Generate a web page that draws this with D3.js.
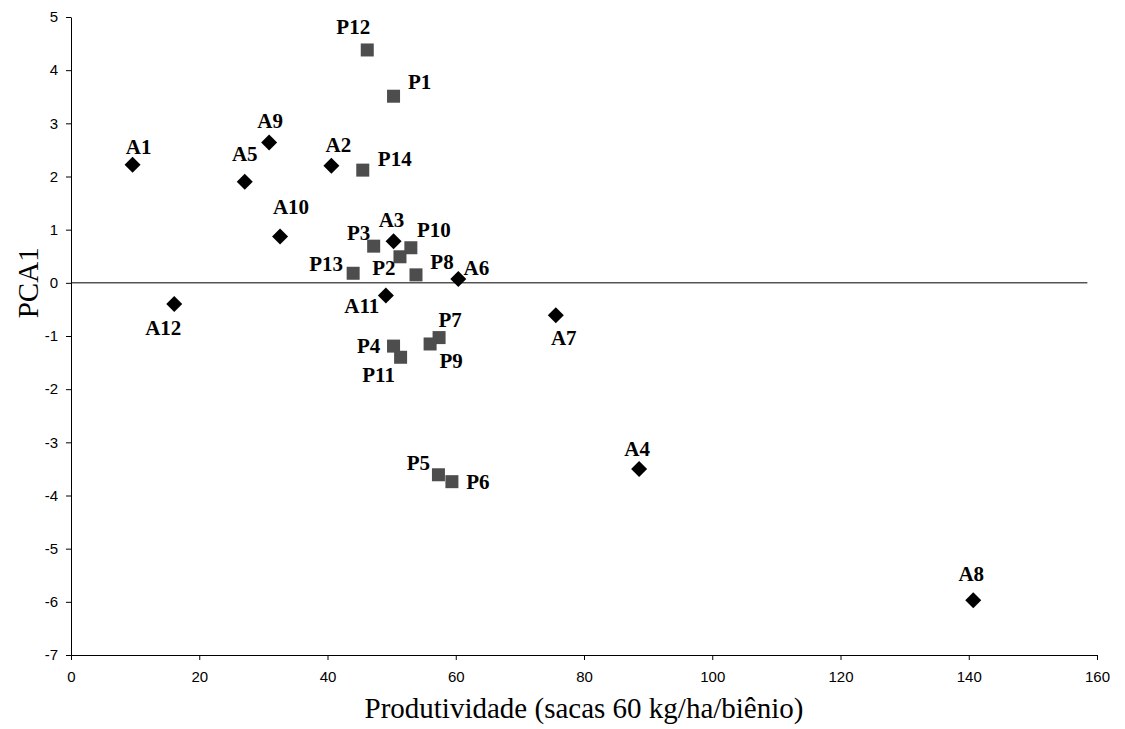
<!DOCTYPE html>
<html>
<head>
<meta charset="utf-8">
<script src="https://cdn.jsdelivr.net/npm/d3@7"></script>
<style>
  body { margin: 0; background: #fff; }
</style>
</head>
<body>
<div id="chart"></div>
<script>
// Series A (diamonds) and P (squares): productivity vs PCA1 score
const aNames = ["A1", "A2", "A3", "A4", "A5", "A6", "A7", "A8", "A9", "A10", "A11", "A12"];
const aProd  = [9.6, 40.6, 50.3, 88.6, 27.1, 60.4, 75.6, 140.7, 30.9, 32.6, 49.1, 16.1];
const aPca   = [2.22, 2.20, 0.78, -3.50, 1.90, 0.07, -0.61, -5.97, 2.64, 0.87, -0.24, -0.40];

const pNames = ["P1", "P2", "P3", "P4", "P5", "P6", "P7", "P8", "P9", "P10", "P11", "P12", "P13", "P14"];
const pProd  = [50.3, 51.3, 47.2, 50.3, 57.3, 59.4, 57.4, 53.8, 56.0, 53.0, 51.4, 46.2, 44.0, 45.5];
const pPca   = [3.51, 0.49, 0.69, -1.19, -3.61, -3.74, -1.03, 0.15, -1.15, 0.66, -1.40, 4.38, 0.18, 2.12];

const xTicks = [0, 20, 40, 60, 80, 100, 120, 140, 160];
const yTicks = [5, 4, 3, 2, 1, 0, -1, -2, -3, -4, -5, -6, -7];

// label offsets in pixels from each marker (label placement only)
const labelOffset = {
  A1: [6, -18], A2: [7, -21], A3: [-2, -22], A4: [-2, -20], A5: [0, -28], A6: [18, -11],
  A7: [8, 22], A8: [-2, -27], A9: [1, -22], A10: [11, -30], A11: [-24, 10], A12: [-11, 24],
  P1: [26, -15], P2: [-16, 11], P3: [-15, -13], P4: [-25, 0], P5: [-20, -12], P6: [26, 0],
  P7: [11, -18], P8: [26, -13], P9: [21, 17], P10: [23, -18], P11: [-22, 17], P12: [-14, -23],
  P13: [-27, -10], P14: [32, -11]
};

const width = 1125, height = 729;
const margin = {top: 17, right: 28, bottom: 74, left: 71};
const serif = "'Liberation Serif', 'Times New Roman', serif";

const svg = d3.select("#chart").append("svg")
  .attr("width", width)
  .attr("height", height);

const x = d3.scaleLinear().domain([0, 160]).range([margin.left, width - margin.right]);
const y = d3.scaleLinear().domain([-7, 5]).range([height - margin.bottom, margin.top]);

const aData = aNames.map((n, i) => ({name: n, x: aProd[i], y: aPca[i]}));
const pData = pNames.map((n, i) => ({name: n, x: pProd[i], y: pPca[i]}));

// axes
const xAxis = svg.append("g")
  .attr("transform", `translate(0,${y(-7)})`)
  .call(d3.axisBottom(x).tickValues(xTicks).tickFormat(d => String(d))
    .tickSize(5).tickSizeOuter(0).tickPadding(11));
const yAxis = svg.append("g")
  .attr("transform", `translate(${x(0)},0)`)
  .call(d3.axisLeft(y).tickValues(yTicks).tickFormat(d => String(d))
    .tickSize(5).tickSizeOuter(0).tickPadding(8));

[xAxis, yAxis].forEach(g => {
  g.attr("font-family", "'Liberation Sans', Arial, sans-serif").attr("font-size", 15);
  g.select(".domain").attr("stroke", "#000").attr("stroke-width", 1);
  g.selectAll(".tick line").attr("stroke", "#000");
  g.selectAll(".tick text").attr("fill", "#000");
});

// zero line
svg.append("line")
  .attr("x1", x(0)).attr("x2", x(158.5))
  .attr("y1", y(0)).attr("y2", y(0))
  .attr("stroke", "#000")
  .attr("stroke-width", 1);

// diamonds
svg.append("g")
  .selectAll("path")
  .data(aData)
  .join("path")
  .attr("transform", d => `translate(${x(d.x)},${y(d.y)})`)
  .attr("d", "M0,-8L8,0L0,8L-8,0Z")
  .attr("fill", "#000");

// squares
svg.append("g")
  .selectAll("rect")
  .data(pData)
  .join("rect")
  .attr("x", d => x(d.x) - 6.5)
  .attr("y", d => y(d.y) - 6.5)
  .attr("width", 13)
  .attr("height", 13)
  .attr("fill", "#4d4d4d");

// point labels
svg.append("g")
  .attr("font-family", serif)
  .attr("font-size", 21)
  .attr("font-weight", "bold")
  .selectAll("text")
  .data(aData.concat(pData))
  .join("text")
  .attr("x", d => x(d.x) + labelOffset[d.name][0])
  .attr("y", d => y(d.y) + labelOffset[d.name][1])
  .attr("dy", "0.35em")
  .attr("text-anchor", "middle")
  .attr("fill", "#000")
  .text(d => d.name);

// axis titles
svg.append("text")
  .attr("x", (x(0) + x(160)) / 2)
  .attr("y", 718)
  .attr("text-anchor", "middle")
  .attr("font-family", serif)
  .attr("font-size", 29)
  .text("Produtividade (sacas 60 kg/ha/biênio)");

svg.append("text")
  .attr("transform", `translate(38,${y(0)}) rotate(-90)`)
  .attr("text-anchor", "middle")
  .attr("font-family", serif)
  .attr("font-size", 29)
  .text("PCA1");
</script>
</body>
</html>
